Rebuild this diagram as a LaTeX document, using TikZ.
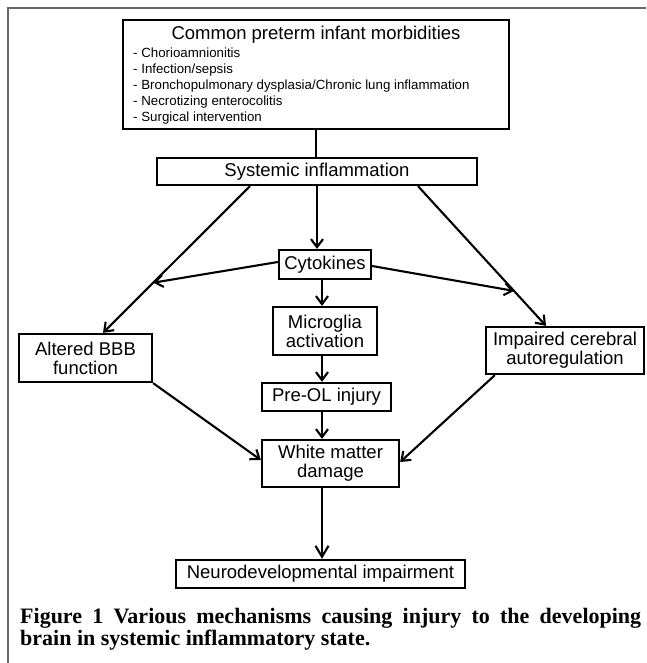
\documentclass[tikz,border=0pt]{standalone}
\usepackage{fontspec}
\setmainfont{Liberation Sans}
\newfontfamily\capfont{Liberation Serif}
\usetikzlibrary{arrows.meta,calc}
\definecolor{framegray}{RGB}{105,105,105}
\begin{document}
\begin{tikzpicture}[x=1pt,y=-1pt,
  box/.style={draw,line width=2.3pt,inner sep=0pt,font=\fontsize{18.5}{19}\selectfont,align=center},
  listitem/.style={anchor=base west,inner sep=0pt,font=\fontsize{13.3}{16}\selectfont},
  captext/.style={anchor=base west,inner sep=0pt,font=\capfont\bfseries\fontsize{22}{22}\selectfont},
  arr/.style={line width=2.1pt,-{Straight Barb[length=8pt,width=12pt,line width=2.1pt]}},
  bigarr/.style={line width=2.1pt,-{Straight Barb[length=11pt,width=13pt,line width=2.1pt]}},
  conn/.style={line width=2.1pt}]
\useasboundingbox (0,0) rectangle (646,663);
\draw[framegray,line width=2.6pt] (8,663) -- (8,8) -- (646,8);

% boxes
\node[box,minimum width=386pt,minimum height=109pt] (top) at (316,74.5) {};
\node[anchor=base,inner sep=0pt,font=\fontsize{18.5}{19}\selectfont] (title) at (316,40) {Common preterm infant morbidities};
\node[listitem] (l1) at (133,58) {- Chorioamnionitis};
\node[listitem] (l2) at (133,74) {- Infection/sepsis};
\node[listitem] (l3) at (133,90) {- Bronchopulmonary dysplasia/Chronic lung inflammation};
\node[listitem] (l4) at (133,106) {- Necrotizing enterocolitis};
\node[listitem] (l5) at (133,122) {- Surgical intervention};

\node[box,minimum width=320pt,minimum height=27pt] (sys) at (317,171.5) {Systemic inflammation};
\node[box,minimum width=92pt,minimum height=29pt] (cyt) at (325,264.5) {Cytokines};
\node[box,minimum width=104pt,minimum height=48pt] (mic) at (325,331) {Microglia\\activation};
\node[box,minimum width=129pt,minimum height=28pt] (pre) at (326.5,397) {Pre-OL injury};
\node[box,minimum width=133pt,minimum height=48pt] (bbb) at (85.5,358) {Altered BBB\\function};
\node[box,minimum width=158pt,minimum height=47pt] (imp) at (565,350.5) {Impaired cerebral\\autoregulation};
\node[box,minimum width=137pt,minimum height=47pt] (wmd) at (330.5,463.5) {White matter\\damage};
\node[box,minimum width=289pt,minimum height=28pt] (neu) at (320.5,574) {Neurodevelopmental impairment};

% connectors
\coordinate (ax) at (322,0);
\draw[conn] (top.south) -- (top.south |- sys.north);
\draw[arr] (sys.south) -- (sys.south |- cyt.north);
\draw[arr] (cyt.south -| ax) -- (mic.north -| ax);
\draw[arr] (mic.south -| ax) -- (pre.north -| ax);
\draw[arr] (pre.south -| ax) -- (wmd.north -| ax);
\draw[bigarr] (wmd.south -| ax) -- (neu.north -| ax);

\coordinate (s1) at ([xshift=-67pt]sys.south);
\coordinate (b1) at ([xshift=17.5pt]bbb.north);
\coordinate (s2) at ([xshift=101pt]sys.south);
\coordinate (i1) at ([xshift=-19pt]imp.north);
\draw[arr] (s1) -- (b1);
\draw[arr] (s2) -- (i1);
\coordinate (m1) at ($(s1)!0.658!(b1)$);
\coordinate (m2) at ($(s2)!0.75!(i1)$);
\draw[arr] ([yshift=2.5pt]cyt.west) -- (m1);
\draw[arr] ([yshift=-1.5pt]cyt.east) -- (m2);
\draw[arr] (bbb.south east) -- ([yshift=3.5pt]wmd.west);
\draw[arr] ([xshift=10pt]imp.south west) -- ([yshift=1.5pt]wmd.east);

% caption
\node[captext] (cap1) at (20,623) {\makebox[621pt][s]{Figure 1 Various mechanisms causing injury to the developing}};
\node[captext] (cap2) at (20,645) {brain in systemic inflammatory state.};
\end{tikzpicture}
\end{document}
